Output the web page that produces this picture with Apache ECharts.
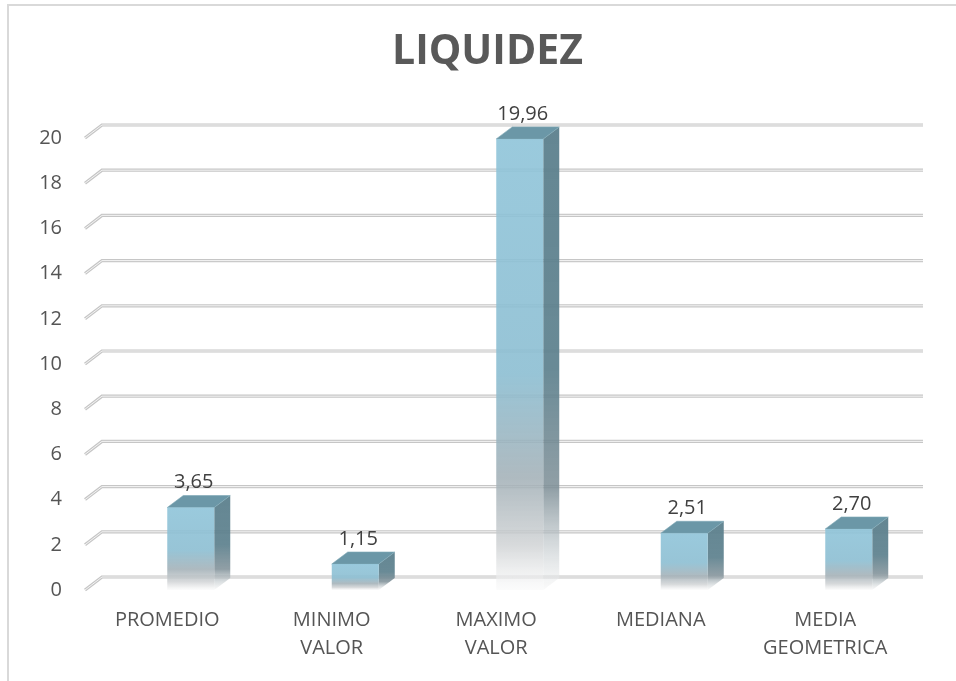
<!DOCTYPE html>
<html>
<head>
<meta charset="utf-8">
<title>LIQUIDEZ</title>
<script src="https://cdn.jsdelivr.net/npm/echarts@6/dist/echarts.min.js"></script>
<style>
	html,body{margin:0;padding:0;background:#fff;}
	#liquidezChart{width:956px;height:681px;}
</style>
</head>
<body>
<div id="liquidezChart"></div>
<script>
var categorias = ['PROMEDIO', 'MINIMO\nVALOR', 'MAXIMO\nVALOR', 'MEDIANA', 'MEDIA\nGEOMETRICA'];
var valores = [3.65, 1.15, 19.96, 2.51, 2.70];
var yTicks = [0, 2, 4, 6, 8, 10, 12, 14, 16, 18, 20];

var fuente = '"Open Sans", "Liberation Sans", sans-serif';

// profundidad 3D
var barW = 47, barDx = 16, barDy = -12;
var gridDx = 17, gridDy = -13;

var barData = [];
for(var i in valores){
	barData.push([Number(i), valores[i]]);
};
var tickData = [];
for(var i in yTicks){
	tickData.push([0, yTicks[i]]);
};

function formatoComa(v){
	return v.toFixed(2).replace('.', ',');
}

var liquidezChart = echarts.init(document.getElementById('liquidezChart'));

var liquidezChart_option = {
	animation: false,
	title: {
		text: 'LIQUIDEZ',
		left: 387,
		top: 27,
		textStyle: {
			fontFamily: fuente,
			fontSize: 41,
			fontWeight: 'bold',
			color: '#595959'
		}
	},
	graphic: {
		elements: [
			{
				type: 'rect',
				silent: true,
				shape: {x: 8, y: 5, width: 1100, height: 1000},
				style: {fill: 'none', stroke: '#d9d9d9', lineWidth: 2}
			}
		]
	},
	grid: {
		left: 85,
		right: 48.5,
		top: 138,
		bottom: 91
	},
	xAxis: {
		type: 'category',
		data: categorias,
		axisLine: {show: false},
		axisTick: {show: false},
		splitLine: {show: false},
		axisLabel: {
			fontFamily: fuente,
			fontSize: 20,
			color: '#555555',
			lineHeight: 28,
			margin: 16,
			interval: 0
		}
	},
	yAxis: {
		type: 'value',
		min: 0,
		max: 20,
		interval: 2,
		axisLine: {show: false},
		axisTick: {show: false},
		splitLine: {show: false},
		axisLabel: {
			fontFamily: fuente,
			fontSize: 20,
			color: '#555555',
			margin: 23
		}
	},
	series: [
		{
			// lineas de division con perspectiva
			type: 'custom',
			silent: true,
			clip: false,
			z: 1,
			data: tickData,
			renderItem: function(params, api){
				var cs = params.coordSys;
				var p = api.coord([0, api.value(1)]);
				var x0 = cs.x, y = p[1];
				var pts = [[x0, y], [x0 + gridDx, y + gridDy], [x0 + cs.width + 15.5, y + gridDy]];
				return {
					type: 'group',
					children: [
						{type: 'polyline', shape: {points: pts}, style: {stroke: '#c6c6c6', lineWidth: 3.2, fill: null}},
						{type: 'polyline', shape: {points: pts}, style: {stroke: '#f4f4f4', lineWidth: 1, fill: null}}
					]
				};
			}
		},
		{
			// barras 3D
			type: 'custom',
			clip: false,
			z: 2,
			data: barData,
			renderItem: function(params, api){
				var base = api.coord([api.value(0), 0]);
				var top = api.coord([api.value(0), api.value(1)]);
				var x0 = base[0], yb = base[1], yt = top[1];
				var frente = new echarts.graphic.LinearGradient(0, 0, 0, 1, [
					{offset: 0, color: 'rgba(143,196,217,0.9)'},
					{offset: 0.52, color: 'rgba(140,190,210,0.9)'},
					{offset: 0.75, color: 'rgba(160,174,181,0.85)'},
					{offset: 0.9, color: 'rgba(205,208,210,0.8)'},
					{offset: 1, color: 'rgba(250,250,250,0.6)'}
				]);
				var lado = new echarts.graphic.LinearGradient(0, 0, 0, 1, [
					{offset: 0, color: 'rgba(92,128,141,0.95)'},
					{offset: 0.52, color: 'rgba(92,128,141,0.92)'},
					{offset: 0.78, color: 'rgba(125,142,150,0.85)'},
					{offset: 1, color: 'rgba(245,245,245,0.5)'}
				]);
				return {
					type: 'group',
					children: [
						{
							type: 'polygon',
							shape: {points: [[x0 + barW, yt], [x0 + barW + barDx, yt + barDy], [x0 + barW + barDx, yb + barDy], [x0 + barW, yb]]},
							style: {fill: lado}
						},
						{
							type: 'polygon',
							shape: {points: [[x0, yt], [x0 + barDx, yt + barDy], [x0 + barW + barDx, yt + barDy], [x0 + barW, yt]]},
							style: {fill: '#6b97a7', stroke: '#7ea7b5', lineWidth: 0.6}
						},
						{
							type: 'rect',
							shape: {x: x0, y: yt, width: barW, height: yb - yt},
							style: {fill: frente}
						},
						{
							type: 'text',
							style: {
								text: formatoComa(api.value(1)),
								x: x0 + barW / 2 + 3,
								y: yt - 25,
								align: 'center',
								verticalAlign: 'middle',
								fontFamily: fuente,
								fontSize: 20,
								fill: '#404040'
							}
						}
					]
				};
			}
		}
	]
};

liquidezChart.setOption(liquidezChart_option);
</script>
</body>
</html>
